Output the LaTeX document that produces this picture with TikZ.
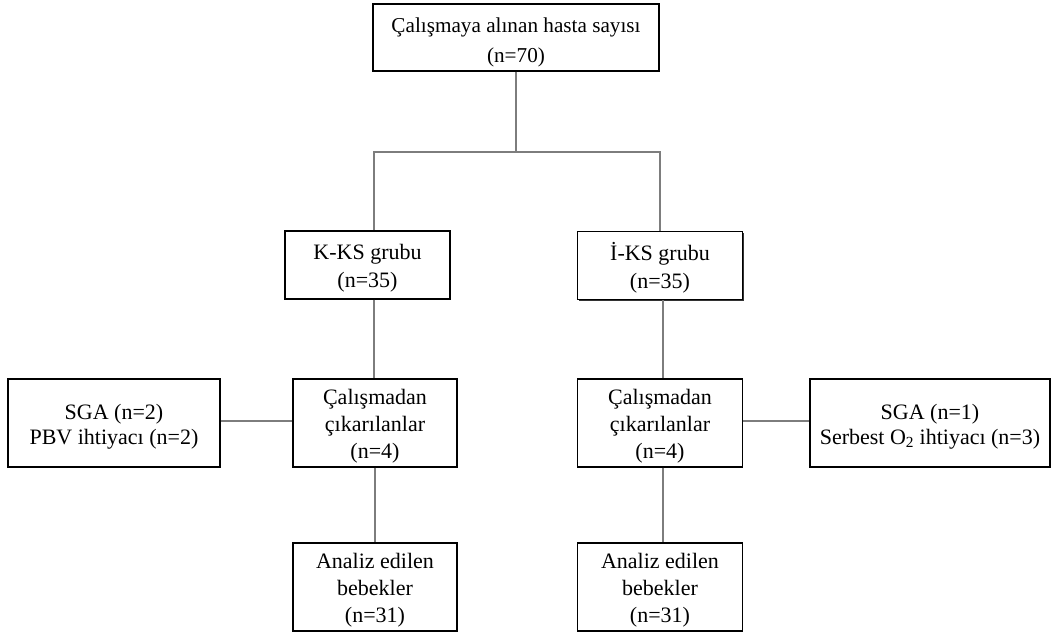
\documentclass[tikz,border=0pt]{standalone}
\usepackage{fontspec}
\setmainfont{Liberation Serif}
\usetikzlibrary{shadows}
\definecolor{conncol}{RGB}{125,125,125}
\newcommand\lowr{\rule{0pt}{22pt}}
\newcommand\lowrtop{\rule{0pt}{25pt}}
\tikzset{
  box/.style={draw=black, line width=1.2pt, fill=white, align=center, inner sep=0pt,
    font=\fontsize{22}{27}\selectfont},
  conn/.style={draw=conncol, line width=1.6pt}
}
\begin{document}
\begin{tikzpicture}[x=1pt,y=1pt]
\useasboundingbox (0,0) rectangle (1056,-633);
\node[box, font=\fontsize{21.2}{30.5}\selectfont, minimum width=286, minimum height=67] (top) at (516,-37.5) {\lowrtop Çalışmaya alınan hasta sayısı\\(n=70)};
\node[box, font=\fontsize{22}{28}\selectfont, minimum width=165, minimum height=68] (kks) at (367.5,-265) {\lowr K-KS grubu\\(n=35)};
\node[box, font=\fontsize{22}{28}\selectfont, minimum width=165, minimum height=68, drop shadow={shadow xshift=1.3pt, shadow yshift=-1.3pt, fill=black, opacity=0.8}] (iks) at (660,-265.5) {\lowr İ-KS grubu\\(n=35)};
\node[box, minimum width=164, minimum height=88] (caL) at (375,-423) {\lowr Çalışmadan\\çıkarılanlar\\(n=4)};
\node[box, font=\fontsize{22}{25}\selectfont, minimum width=212, minimum height=88] (sgaL) at (114,-423) {\lowr SGA (n=2)\\PBV ihtiyacı (n=2)};
\node[box, minimum width=165, minimum height=88] (caR) at (660,-423) {\lowr Çalışmadan\\çıkarılanlar\\(n=4)};
\node[box, font=\fontsize{22}{25}\selectfont, minimum width=240, minimum height=88] (sgaR) at (930,-423) {\lowr SGA (n=1)\\Serbest O\textsubscript{2} ihtiyacı (n=3)};
\node[box, minimum width=164, minimum height=88] (anL) at (375,-587) {\lowr Analiz edilen\\bebekler\\(n=31)};
\node[box, minimum width=165, minimum height=88] (anR) at (660,-587) {\lowr Analiz edilen\\bebekler\\(n=31)};
\coordinate (j) at (516,-152);
\draw[conn] (top.south) -- (j);
\draw[conn] (j) -| ([xshift=6.5pt]kks.north);
\draw[conn] (j) -| (iks.north);
\draw[conn] ([xshift=6.5pt]kks.south) -- ([xshift=-1pt]caL.north);
\draw[conn] ([xshift=3pt]iks.south) -- ([xshift=3pt]caR.north);
\draw[conn] (caL.south) -- (anL.north);
\draw[conn] ([xshift=3pt]caR.south) -- ([xshift=3pt]anR.north);
\draw[conn] ([yshift=2pt]sgaL.east) -- ([yshift=2pt]caL.west);
\draw[conn] ([yshift=2pt]caR.east) -- ([yshift=2pt]sgaR.west);
\end{tikzpicture}
\end{document}
